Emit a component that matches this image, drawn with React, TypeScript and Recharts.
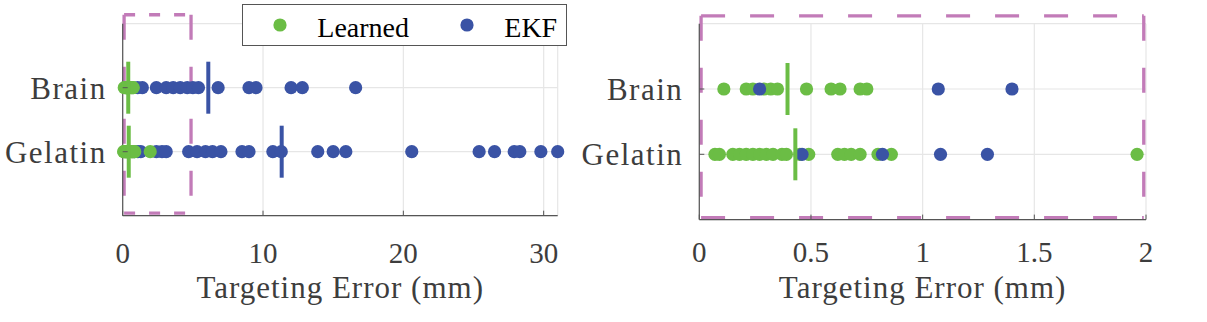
import React from "react"
import {
  CartesianGrid,
  ReferenceLine,
  Scatter,
  ScatterChart,
  XAxis,
  YAxis,
} from "recharts"

// categories sit at y = 1 (Gelatin) and y = 2 (Brain)
const categories = ["Gelatin", "Brain"]

const learnedBrain = [0.11, 0.21, 0.24, 0.29, 0.32, 0.35, 0.48, 0.59, 0.63, 0.72, 0.75]
const learnedGelatin = [
  0.07, 0.09, 0.15, 0.18, 0.21, 0.24, 0.27, 0.3, 0.33, 0.37, 0.39, 0.45, 0.49, 0.62, 0.65,
  0.68, 0.72, 0.8, 0.86, 1.96,
]
const ekfBrain = [0.27, 1.07, 1.4, 2.4, 3.1, 3.6, 4.1, 4.6, 5.0, 5.4, 6.8, 9.0, 9.5, 12.0, 12.8, 16.6]
const ekfGelatin = [
  0.46, 0.82, 1.08, 1.29, 2.4, 2.8, 3.1, 4.7, 5.3, 5.9, 6.4, 7.0, 8.5, 9.0, 10.7, 11.3, 13.9,
  15.0, 15.9, 20.6, 25.4, 26.5, 27.9, 28.3, 29.8, 31.0,
]
// mean markers, [Gelatin, Brain]
const learnedMean = [0.43, 0.395]
const ekfMean = [11.33, 6.1]

const leftTicks = [0, 10, 20, 30]
const rightTicks = [0, 0.5, 1, 1.5, 2]

// zoom-region boxes [x1, x2, y1, y2]
const leftBox = [0.1, 4.87, 0.04, 3.14]
const rightBox = [0.008, 1.99, 0.03, 3.12]

const GREEN = "#6bbd45"
const BLUE = "#3a53a5"
const PINK = "#c27bb8"
const AXIS = "#555555"
const TEXT = "#3d3d3d"
const FONT = "Liberation Serif, Times New Roman, serif"

const pts = (vals: number[], cat: number, max = Infinity) =>
  vals.filter((v) => v <= max).map((v) => ({ x: v, y: cat + 1 }))

const meanPts = (vals: number[], max = Infinity) =>
  vals.map((v, i) => ({ x: v, y: i + 1 })).filter((p) => p.x <= max)

const dot = (color: string) => (p: any) => <circle cx={p.cx} cy={p.cy} r={6.6} fill={color} />
const bar = (color: string) => (p: any) => (
  <line x1={p.cx} x2={p.cx} y1={p.cy - 26} y2={p.cy + 26} stroke={color} strokeWidth={4} />
)

const YTick = (p: any) => (
  <g>
    <line x1={p.x} x2={p.x + 5} y1={p.y} y2={p.y} stroke={AXIS} />
    <text
      x={p.x - 16}
      y={p.y + 11}
      textAnchor="end"
      fontFamily={FONT}
      fontSize={31}
      letterSpacing={1.5}
      fill={TEXT}
    >
      {categories[p.payload.value - 1]}
    </text>
  </g>
)

const xTick = (dy: number) => (p: any) => (
  <g>
    <line x1={p.x} x2={p.x} y1={p.y} y2={p.y - 5} stroke={AXIS} />
    <text x={p.x} y={p.y + dy} textAnchor="middle" fontFamily={FONT} fontSize={29} fill={TEXT}>
      {p.payload.value}
    </text>
  </g>
)

const axisLabel = {
  value: "Targeting Error (mm)",
  position: "insideBottom" as const,
  offset: 24.3,
  style: { fontFamily: FONT, fontSize: 31, letterSpacing: 1, fill: TEXT },
}

const boxLines = (b: number[], hDash: string, vDash: string) => {
  const [x1, x2, y1, y2] = b
  const common = { stroke: PINK, strokeWidth: 3.3, ifOverflow: "visible" as const }
  return [
    <ReferenceLine key="t" segment={[{ x: x1, y: y2 }, { x: x2, y: y2 }]} strokeDasharray={hDash} {...common} />,
    <ReferenceLine key="b" segment={[{ x: x1, y: y1 }, { x: x2, y: y1 }]} strokeDasharray={hDash} {...common} />,
    <ReferenceLine key="l" segment={[{ x: x1, y: y2 }, { x: x1, y: y1 }]} strokeDasharray={vDash} {...common} />,
    <ReferenceLine key="r" segment={[{ x: x2, y: y2 }, { x: x2, y: y1 }]} strokeDasharray={vDash} {...common} />,
  ]
}

export default function App() {
  return (
    <div style={{ position: "absolute", left: 0, top: 0, width: 1207, height: 322, background: "#fff" }}>
      <div style={{ position: "absolute", left: 0, top: 0 }}>
        <ScatterChart width={580} height={322} margin={{ top: 23.7, right: 22.3, left: 0, bottom: 0 }}>
          <CartesianGrid stroke="#e6e6e6" strokeWidth={1.2} />
          <XAxis
            type="number"
            dataKey="x"
            domain={[0, 31]}
            ticks={leftTicks}
            height={106.3}
            tickSize={0}
            tickMargin={0}
            tick={xTick(47.6)}
            axisLine={{ stroke: AXIS, strokeWidth: 1.2 }}
            tickLine={false}
            label={axisLabel}
          />
          <YAxis
            type="number"
            dataKey="y"
            domain={[0, 3]}
            ticks={[1, 2]}
            width={122.7}
            tickSize={0}
            tickMargin={0}
            tick={YTick}
            axisLine={{ stroke: AXIS, strokeWidth: 1.2 }}
            tickLine={false}
          />
          <Scatter data={pts(ekfBrain, 1)} shape={dot(BLUE)} isAnimationActive={false} />
          <Scatter data={pts(ekfGelatin, 0)} shape={dot(BLUE)} isAnimationActive={false} />
          <Scatter data={pts(learnedBrain, 1)} shape={dot(GREEN)} isAnimationActive={false} />
          <Scatter data={pts(learnedGelatin, 0)} shape={dot(GREEN)} isAnimationActive={false} />
          <Scatter data={meanPts(ekfMean)} shape={bar(BLUE)} isAnimationActive={false} />
          <Scatter data={meanPts(learnedMean)} shape={bar(GREEN)} isAnimationActive={false} />
          {boxLines(leftBox, "11 14", "25 27")}
        </ScatterChart>
      </div>

      <div style={{ position: "absolute", left: 580, top: 0 }}>
        <ScatterChart width={627} height={322} margin={{ top: 23.7, right: 61, left: 0, bottom: 0 }}>
          <CartesianGrid stroke="#e6e6e6" strokeWidth={1.2} />
          <XAxis
            type="number"
            dataKey="x"
            domain={[0, 2]}
            ticks={rightTicks}
            height={102.4}
            tickSize={0}
            tickMargin={0}
            tick={xTick(42)}
            axisLine={{ stroke: AXIS, strokeWidth: 1.2 }}
            tickLine={false}
            label={axisLabel}
          />
          <YAxis
            type="number"
            dataKey="y"
            domain={[0, 3]}
            ticks={[1, 2]}
            width={119.3}
            tickSize={0}
            tickMargin={0}
            tick={YTick}
            axisLine={{ stroke: AXIS, strokeWidth: 1.2 }}
            tickLine={false}
          />
          <Scatter data={pts(learnedBrain, 1, 2)} shape={dot(GREEN)} isAnimationActive={false} />
          <Scatter data={pts(learnedGelatin, 0, 2)} shape={dot(GREEN)} isAnimationActive={false} />
          <Scatter data={pts(ekfBrain, 1, 2)} shape={dot(BLUE)} isAnimationActive={false} />
          <Scatter data={pts(ekfGelatin, 0, 2)} shape={dot(BLUE)} isAnimationActive={false} />
          <Scatter data={meanPts(learnedMean, 2)} shape={bar(GREEN)} isAnimationActive={false} />
          {boxLines(rightBox, "24 25", "25 27")}
        </ScatterChart>
      </div>

      {/* legend */}
      <div
        style={{
          position: "absolute",
          left: 241.7,
          top: 4,
          width: 325,
          height: 41.7,
          boxSizing: "border-box",
          border: `1.5px solid ${AXIS}`,
          background: "#fff",
        }}
      >
        <svg width={325} height={42} style={{ position: "absolute", left: -1.5, top: -1.5 }}>
          <circle cx={39} cy={21} r={6.6} fill={GREEN} />
          <text x={76.3} y={32.7} fontFamily={FONT} fontSize={28} fill="#000">
            Learned
          </text>
          <circle cx={226} cy={21} r={6.6} fill={BLUE} />
          <text x={263.3} y={32.7} fontFamily={FONT} fontSize={28} fill="#000">
            EKF
          </text>
        </svg>
      </div>
    </div>
  )
}
